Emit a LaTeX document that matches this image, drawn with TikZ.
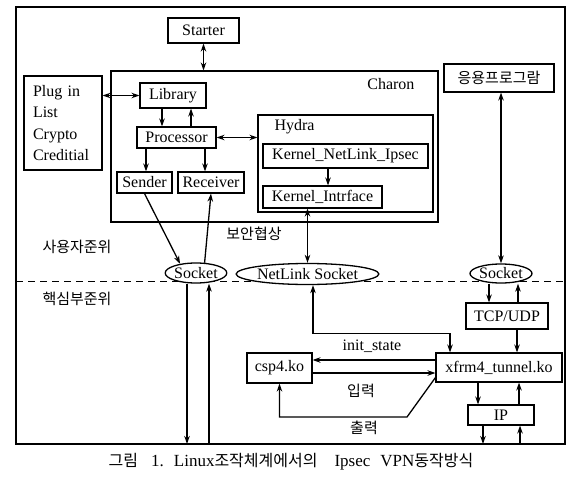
\documentclass[tikz,border=0pt]{standalone}
\usepackage{fontspec}
\setmainfont{Liberation Serif}
\newfontfamily\kr{Noto Sans CJK KR}
\usetikzlibrary{arrows.meta, shapes.geometric}

\begin{document}
\begin{tikzpicture}[
    x=1pt, y=-1pt, % one unit = one pixel of the layout, y pointing down
    every node/.style={font=\fontsize{16}{19}\selectfont},
    box/.style={draw, line width=1.1pt, inner sep=0pt, fill=white},
    sock/.style={ellipse, draw, line width=1.3pt, inner sep=0pt, fill=white},
    link/.style={line width=1.3pt, -{Stealth[length=8pt, width=5.5pt, inset=2.5pt]}},
    dlink/.style={line width=1.3pt, {Stealth[length=8pt, width=5.5pt, inset=2.5pt]}-{Stealth[length=8pt, width=5.5pt, inset=2.5pt]}},
    krtext/.style={font=\kr\fontsize{15}{18}\selectfont}
]
    \useasboundingbox (0,0) rectangle (580,484);

    % --- 1. SHARED VALUES ---
    \def\levelY{281}  % user / kernel border
    \def\frameB{444}  % bottom of the frame

    % columns and rows used by the straight connectors
    \foreach \n/\v in {LibDn/162, LibUp/191, Send/146, Recv/205, Knl/328,
                       SkDn/187, SkUp/209, Nl/313, Xf/450, TcpDn/489, TcpUp/518,
                       XfIn/517, IpDn/478, IpUp/519, OutDn/483, OutUp/520}
        \coordinate (c\n) at (\v,0);
    \coordinate (rInit) at (0,360);
    \coordinate (rIn) at (0,373);
    \coordinate (bot) at (0,\frameB);
    \coordinate (outbend) at (407,417);

    % --- 2. FRAME AND LEVEL LINE ---
    \draw[line width=1.1pt] (16,7) rectangle (565,\frameB);
    \draw[dashed, dash pattern=on 7pt off 5pt, line width=0.9pt] (16,\levelY) -- (565,\levelY);

    \node[krtext] (userlvl) at (77,247) {사용자준위};
    \node[krtext] (kernlvl) at (77,299) {핵심부준위};

    % ==========================================
    % USER LEVEL
    % ==========================================
    \node[box, minimum width=71pt, minimum height=25pt] (starter) at (203.5,30.5) {Starter};
    \node[draw, line width=1.1pt, minimum width=327pt, minimum height=151pt] (charon) at (274.5,146.5) {};
    \node[anchor=east] (charonlbl) at (418,84) {Charon};

    \node[box, minimum height=94pt, text width=60pt, inner xsep=9pt, align=left,
          font=\fontsize{16}{21.5}\selectfont] (plug) at (63,123) {Plug in\\List\\Crypto\\Creditial};

    \node[box, minimum width=66pt, minimum height=25pt] (lib) at (173,95.5) {Library};
    \node[box, minimum width=79pt, minimum height=21pt] (proc) at (176.5,137.5) {Processor};
    \node[box, minimum width=55pt, minimum height=21pt] (send) at (144.5,182.5) {Sender};
    \node[box, minimum width=66pt, minimum height=21pt] (recv) at (211,182.5) {Receiver};

    \node[draw, line width=1.1pt, minimum width=175pt, minimum height=97pt] (hydra) at (345.5,163.5) {};
    \node[anchor=west] (hydralbl) at (271,127) {Hydra};
    \node[box, minimum width=165pt, minimum height=24pt] (knl) at (345.5,156) {Kernel\_NetLink\_Ipsec};
    \node[box, minimum width=119pt, minimum height=22pt] (kint) at (322.5,197) {Kernel\_Intrface};

    \node[box, minimum width=110pt, minimum height=28pt, krtext] (app) at (499,78) {응용프로그람};

    \node[krtext] (negot) at (254,234) {보안협상};

    % sockets sit on the level line
    \node[sock, minimum width=56pt, minimum height=20pt] (sockL) at (196,273) {Socket};
    \node[sock, minimum width=129pt, minimum height=21pt] (nls) at (307.5,274) {NetLink Socket};
    \node[sock, minimum width=62pt, minimum height=19pt] (sockR) at (501,273.5) {Socket};

    % user level connectors
    \draw[dlink] (starter.south) -- (starter.south |- charon.north);
    \draw[dlink] (lib.west -| plug.east) -- (lib.west);
    \draw[link] (cLibDn |- lib.south) -- (cLibDn |- proc.north);
    \draw[link] (cLibUp |- proc.north) -- (cLibUp |- lib.south);
    \draw[dlink] (proc.east) -- (proc.east -| hydra.west);
    \draw[link] (cSend |- proc.south) -- (cSend |- send.north);
    \draw[link] (cRecv |- proc.south) -- (cRecv |- recv.north);
    \draw[link] (cKnl |- knl.south) -- (cKnl |- kint.north);
    \draw[link] (send.south) -- (sockL.150);
    \draw[link] (sockL.50) -- (recv.south);
    \draw[dlink] (nls.north |- kint.south) -- (nls.north);
    \draw[dlink] (app.south -| sockR.north) -- (sockR.north);

    % ==========================================
    % KERNEL LEVEL
    % ==========================================
    \node[box, minimum width=82pt, minimum height=26pt] (tcp) at (507,316) {TCP/UDP};
    \node[box, minimum width=126pt, minimum height=29pt] (xfrm) at (499,367.5) {xfrm4\_tunnel.ko};
    \node[box, minimum width=66pt, minimum height=20pt] (ip) at (501,415) {IP};
    \node[box, minimum width=65pt, minimum height=30pt] (csp) at (279.5,368) {csp4.ko};

    \node (initlbl) at (372,346) {init\_state};
    \node[krtext] (inlbl) at (361,391) {입력};
    \node[krtext] (outlbl) at (364,428) {출력};

    % kernel level connectors
    \draw[link] (cSkDn |- sockL.south) -- (cSkDn |- bot);
    \draw[link] (cSkUp |- bot) -- (cSkUp |- sockL.south);
    \draw[dlink] (cNl |- nls.south) -- ++(0,48) -| (cXf |- xfrm.north);
    \draw[link] (cTcpDn |- sockR.south) -- (cTcpDn |- tcp.north);
    \draw[link] (cTcpUp |- tcp.north) -- (cTcpUp |- sockR.south);
    \draw[link] (cXfIn |- tcp.south) -- (cXfIn |- xfrm.north);
    \draw[link] (cIpDn |- xfrm.south) -- (cIpDn |- ip.north);
    \draw[link] (cIpUp |- ip.north) -- (cIpUp |- xfrm.south);
    \draw[link] (cOutDn |- ip.south) -- (cOutDn |- bot);
    \draw[link] (cOutUp |- bot) -- (cOutUp |- ip.south);
    \draw[link] (xfrm.west |- rInit) -- (csp.east |- rInit);
    \draw[link] (csp.east |- rIn) -- (xfrm.west |- rIn);
    \draw[link] ([yshift=5pt]xfrm.south west) -- (outbend) -| (csp.south);

    % Caption below
    \node[font=\fontsize{17}{20}\selectfont] (caption) at (291,462)
        {{\kr\fontsize{16}{20}\selectfont 그림}\hspace{13pt}1.\hspace{10pt}Linux{\kr\fontsize{16}{20}\selectfont 조작체계에서의}\hspace{17pt}Ipsec\hspace{10pt}VPN{\kr\fontsize{16}{20}\selectfont 동작방식}};

\end{tikzpicture}
\end{document}
